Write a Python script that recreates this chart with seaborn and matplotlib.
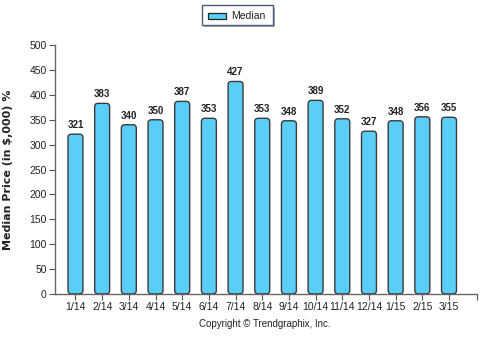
import matplotlib
matplotlib.use("Agg")
import matplotlib.pyplot as plt
import seaborn as sns
import pandas as pd
from matplotlib.patches import FancyBboxPatch

months = ["1/14", "2/14", "3/14", "4/14", "5/14", "6/14", "7/14", "8/14",
          "9/14", "10/14", "11/14", "12/14", "1/15", "2/15", "3/15"]
median = [321, 383, 340, 350, 387, 353, 427, 353, 348, 389, 352, 327, 348, 356, 355]

df = pd.DataFrame({"month": months, "median": median})

sns.set_style("white")
plt.rcParams["font.family"] = ["Liberation Sans", "DejaVu Sans"]

fig = plt.figure(figsize=(4.86, 3.37), dpi=100)
ax = fig.add_axes([0.113, 0.128, 0.868, 0.738])

bar_color = "#5BCEF8"
edge_color = "#3a3a3a"
sns.barplot(data=df, x="month", y="median", color=bar_color, width=0.56,
            saturation=1, ax=ax, zorder=2)

xmax = 14.05 + 0.99
ax.set_xlim(-0.77, xmax)
ax.set_ylim(0, 500)

# swap the plain rectangles for bars with rounded corners
aspect = 53.0
for p in list(ax.patches):
    x, y = p.get_x(), p.get_y()
    w, h = p.get_width(), p.get_height()
    rb = FancyBboxPatch((x, y), w, h,
                        boxstyle="round,pad=0,rounding_size=0.13",
                        mutation_aspect=aspect,
                        facecolor=bar_color, edgecolor=edge_color,
                        linewidth=1.0, zorder=2)
    p.remove()
    ax.add_patch(rb)

for i, v in enumerate(median):
    ax.text(i, v + 8, str(v), ha="center", va="bottom", fontsize=7,
            fontweight="bold", color="#222222")

ax.set_yticks(range(0, 501, 50))
ax.set_xlabel("")
ax.set_ylabel("Median Price (in $,000) %", fontsize=8, fontweight="bold",
              color="#222222", family=["DejaVu Sans"])
ax.yaxis.set_label_coords(-0.1, 0.5)
ax.tick_params(axis="both", which="both", direction="out", length=4, width=0.8,
               color="#555555", labelsize=7.5, labelcolor="#222222", pad=2,
               bottom=True, left=True)
ax.set_xticks(list(range(15)) + [xmax])
ax.set_xticklabels(months + [""])

for side in ["top", "right"]:
    ax.spines[side].set_visible(False)
for side in ["left", "bottom"]:
    ax.spines[side].set_color("#666666")
    ax.spines[side].set_linewidth(1.0)

# legend box with a drop shadow
lx, ly, lw_, lh_ = 0.4156, 0.926, 0.146, 0.059
dx, dy = 2.5 / 486, 2.5 / 337
shadow = FancyBboxPatch((lx + dx, ly - dy), lw_, lh_,
                        boxstyle="square,pad=0", transform=fig.transFigure,
                        facecolor="#a8a8a8", edgecolor="none", zorder=1)
box = FancyBboxPatch((lx, ly), lw_, lh_,
                     boxstyle="square,pad=0", transform=fig.transFigure,
                     facecolor="white", edgecolor="#4a5a7a", linewidth=1.0, zorder=2)
swatch = FancyBboxPatch((0.428, 0.9445), 0.037, 0.018,
                        boxstyle="square,pad=0", transform=fig.transFigure,
                        facecolor=bar_color, edgecolor="#222222", linewidth=0.9, zorder=3)
for art in (shadow, box, swatch):
    fig.add_artist(art)
fig.text(0.475, 0.953, "Median", fontsize=7.5, va="center",
         ha="left", color="#222222", zorder=4)

fig.text(0.545, 0.04, "Copyright \u00a9 Trendgraphix, Inc.", fontsize=7,
         ha="center", va="center", color="#222222")

fig.savefig("out.png", dpi=100)
